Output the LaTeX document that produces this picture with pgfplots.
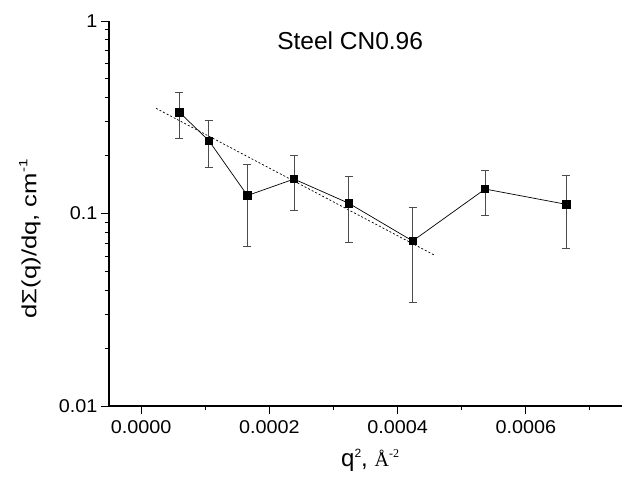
\documentclass[border=0pt]{standalone}
\usepackage{pgfplots}
\pgfplotsset{compat=1.18}
\usepackage{fontspec}
\setmainfont{Liberation Sans}
\newfontfamily\tickfont{Liberation Sans}[FakeStretch=1.07]
\newfontfamily\labfont{Liberation Sans}[FakeStretch=1.25]
\newfontfamily\seriffont{Liberation Serif}
\pgfplotstableread{
x        y      ep      em
5.96e-5  0.336  0.090   0.089
1.057e-4 0.239  0.066   0.065
1.659e-4 0.124  0.056   0.0564
2.385e-4 0.151  0.049   0.047
3.24e-4  0.113  0.043   0.0425
4.235e-4 0.072  0.036   0.0376
5.365e-4 0.134  0.034   0.036
6.63e-4  0.1116 0.0464  0.0456
}\datatable
\begin{document}
\begin{tikzpicture}
\begin{axis}[
  name=ax,
  scale only axis,
  width=513pt, height=385pt,
  ymode=log,
  xmin=-0.00005, xmax=0.00075,
  ymin=0.01, ymax=1,
  axis x line*=bottom, axis y line*=left,
  axis line style={line width=1.2pt, -},
  tick align=outside,
  major tick length=8pt, minor tick length=4.5pt,
  every tick/.style={black, line width=1pt},
  xtick={0,0.0002,0.0004,0.0006},
  minor xtick={0.0001,0.0003,0.0005,0.0007},
  scaled x ticks=false,
  xticklabel style={yshift=-3pt, /pgf/number format/.cd, fixed, fixed zerofill, precision=4, assume math mode=true},
  ytick={0.01,0.1,1},
  yticklabels={0.01,0.1,1},
  tick label style={font=\tickfont\fontsize{18.5}{20}\selectfont},
  xlabel={{\fontsize{24}{26}\selectfont q\raisebox{9pt}{\fontsize{12}{12}\selectfont 2}, }{\seriffont\fontsize{20}{22}\selectfont Å\raisebox{9pt}{\fontsize{12}{12}\selectfont -2}}},
  xlabel style={at={(axis description cs:0.509,-0.14)}, anchor=center},
  ylabel={\labfont\fontsize{20.5}{22}\selectfont dΣ(q)/dq, cm\raisebox{9pt}{\fontsize{12}{12}\selectfont -1}},
  ylabel style={at={(axis description cs:-0.154,0.434)}, anchor=center},
  clip=false,
]
\addplot[black, line width=0.7pt, dash pattern=on 2pt off 2pt] coordinates {(2.33e-5,0.352) (4.59e-4,0.0604)};
\addplot[black, line width=0.7pt, mark=square*, mark size=3.7pt, mark options={solid, fill=black},
  error bars/.cd, y dir=both, y explicit,
  error bar style={gray!60!black, line width=0.8pt},
  error mark options={rotate=90, mark size=4pt, gray!60!black, line width=0.8pt}]
  table[x=x, y=y, y error plus=ep, y error minus=em] {\datatable};
\node[font=\fontsize{24.5}{26}\selectfont, anchor=base] at (axis description cs:0.47,0.925) {Steel CN0.96};
\end{axis}
\pgfresetboundingbox
\path[use as bounding box] ([shift={(-109pt,-75pt)}]ax.south west) rectangle ([shift={(8pt,21pt)}]ax.north east);
\end{tikzpicture}
\end{document}
